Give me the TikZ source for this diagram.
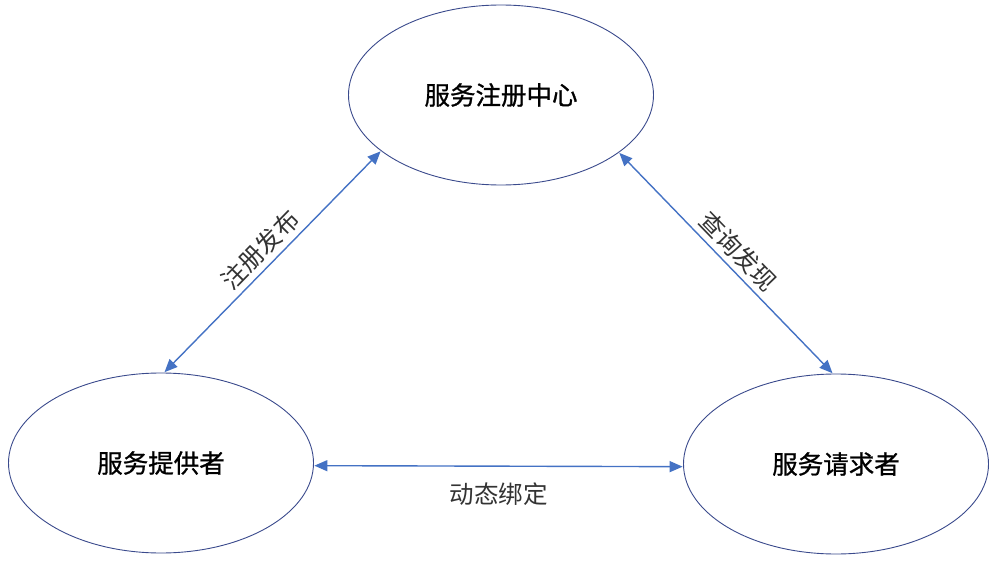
\documentclass[tikz,border=0pt]{standalone}
\usepackage{fontspec}
\newfontfamily\cjk{Noto Sans CJK SC}
\newfontfamily\cjkb[FakeBold=1]{Noto Sans CJK SC}
\usetikzlibrary{shapes.geometric,arrows.meta}
\definecolor{edgeblue}{HTML}{4472C4}
\definecolor{ringblue}{HTML}{3A4A8C}
\tikzset{
  ellnode/.style={ellipse, draw=ringblue, line width=0.9pt, minimum width=305pt, minimum height=180pt, inner sep=0pt, font=\cjkb\fontsize{25.5}{30}\selectfont},
  link/.style={draw=edgeblue, line width=1.4pt, {Triangle[length=13pt,width=11pt]}-{Triangle[length=13pt,width=11pt]}, shorten <=0.5pt, shorten >=0.5pt},
  linklabel/.style={font=\cjk\fontsize{24.5}{29}\selectfont, text=black!80}
}
\begin{document}
\begin{tikzpicture}[x=1pt,y=-1pt]
\useasboundingbox (0,0) rectangle (993,564);
\node[ellnode] (center) at (501,95) {服务注册中心};
\node[ellnode] (provider) at (161,463) {服务提供者};
\node[ellnode] (requester) at (836,464) {服务请求者};
\draw[link] (provider.88.8) -- node[sloped, above, linklabel, inner sep=5pt] (pub) {注册发布} (center.205.8);
\draw[link] (center.334) -- node[sloped, above, linklabel, inner sep=5pt] (find) {查询发现} (requester.92);
\draw[link] (provider.-1.5) -- node[below, linklabel, yshift=-13pt] (bind) {动态绑定} (requester.181);
\end{tikzpicture}
\end{document}
